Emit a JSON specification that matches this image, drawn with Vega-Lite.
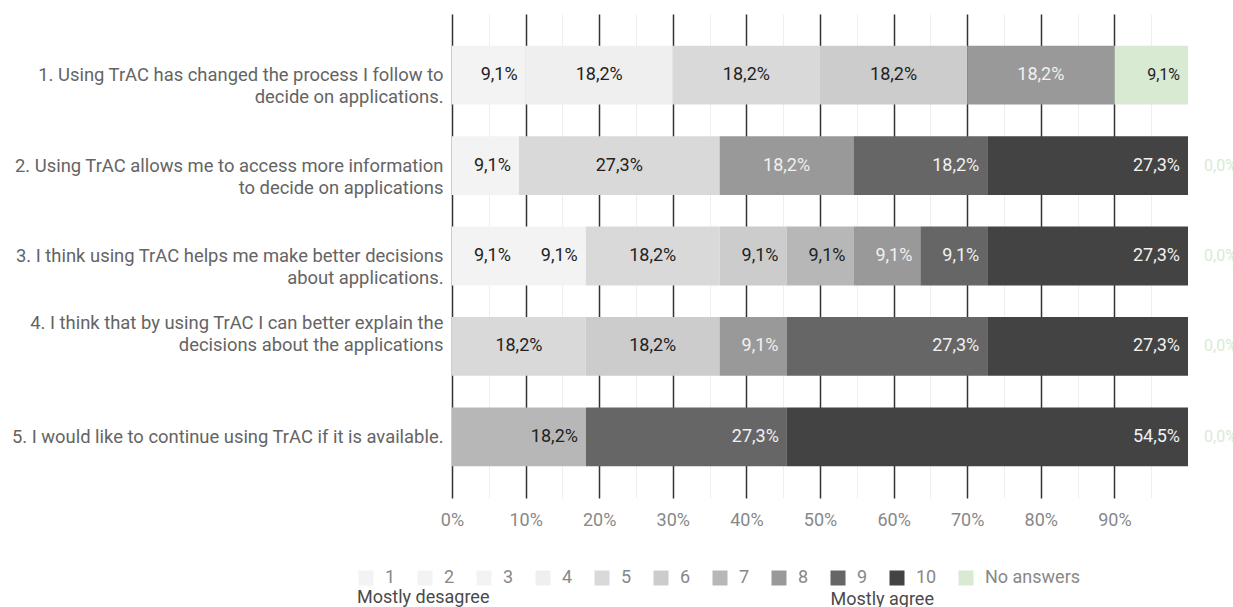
{
  "$schema": "https://vega.github.io/schema/vega-lite/v6.json",
  "width": 736,
  "height": 484,
  "autosize": {"type": "none"},
  "padding": {"left": 452, "top": 14, "right": 45, "bottom": 109},
  "config": {
    "view": {"stroke": null},
    "font": "Roboto",
    "text": {"font": "Roboto"}
  },
  "data": {
    "values": [
      {"q": "1. Using TrAC has changed the process I follow to\ndecide on applications.", "answer": "3", "code": 3, "pct": 9.1},
      {"q": "1. Using TrAC has changed the process I follow to\ndecide on applications.", "answer": "4", "code": 4, "pct": 18.2},
      {"q": "1. Using TrAC has changed the process I follow to\ndecide on applications.", "answer": "5", "code": 5, "pct": 18.2},
      {"q": "1. Using TrAC has changed the process I follow to\ndecide on applications.", "answer": "6", "code": 6, "pct": 18.2},
      {"q": "1. Using TrAC has changed the process I follow to\ndecide on applications.", "answer": "8", "code": 8, "pct": 18.2},
      {"q": "1. Using TrAC has changed the process I follow to\ndecide on applications.", "answer": "No answers", "code": 11, "pct": 9.1},

      {"q": "2. Using TrAC allows me to access more information\nto decide on applications", "answer": "2", "code": 2, "pct": 9.1},
      {"q": "2. Using TrAC allows me to access more information\nto decide on applications", "answer": "5", "code": 5, "pct": 27.3},
      {"q": "2. Using TrAC allows me to access more information\nto decide on applications", "answer": "8", "code": 8, "pct": 18.2},
      {"q": "2. Using TrAC allows me to access more information\nto decide on applications", "answer": "9", "code": 9, "pct": 18.2},
      {"q": "2. Using TrAC allows me to access more information\nto decide on applications", "answer": "10", "code": 10, "pct": 27.3},
      {"q": "2. Using TrAC allows me to access more information\nto decide on applications", "answer": "No answers", "code": 11, "pct": 0},

      {"q": "3. I think using TrAC helps me make better decisions\nabout applications.", "answer": "2", "code": 2, "pct": 9.1},
      {"q": "3. I think using TrAC helps me make better decisions\nabout applications.", "answer": "3", "code": 3, "pct": 9.1},
      {"q": "3. I think using TrAC helps me make better decisions\nabout applications.", "answer": "5", "code": 5, "pct": 18.2},
      {"q": "3. I think using TrAC helps me make better decisions\nabout applications.", "answer": "6", "code": 6, "pct": 9.1},
      {"q": "3. I think using TrAC helps me make better decisions\nabout applications.", "answer": "7", "code": 7, "pct": 9.1},
      {"q": "3. I think using TrAC helps me make better decisions\nabout applications.", "answer": "8", "code": 8, "pct": 9.1},
      {"q": "3. I think using TrAC helps me make better decisions\nabout applications.", "answer": "9", "code": 9, "pct": 9.1},
      {"q": "3. I think using TrAC helps me make better decisions\nabout applications.", "answer": "10", "code": 10, "pct": 27.3},
      {"q": "3. I think using TrAC helps me make better decisions\nabout applications.", "answer": "No answers", "code": 11, "pct": 0},

      {"q": "4. I think that by using TrAC I can better explain the\ndecisions about the applications", "answer": "5", "code": 5, "pct": 18.2},
      {"q": "4. I think that by using TrAC I can better explain the\ndecisions about the applications", "answer": "6", "code": 6, "pct": 18.2},
      {"q": "4. I think that by using TrAC I can better explain the\ndecisions about the applications", "answer": "8", "code": 8, "pct": 9.1},
      {"q": "4. I think that by using TrAC I can better explain the\ndecisions about the applications", "answer": "9", "code": 9, "pct": 27.3},
      {"q": "4. I think that by using TrAC I can better explain the\ndecisions about the applications", "answer": "10", "code": 10, "pct": 27.3},
      {"q": "4. I think that by using TrAC I can better explain the\ndecisions about the applications", "answer": "No answers", "code": 11, "pct": 0},

      {"q": "5. I would like to continue using TrAC if it is available.", "answer": "7", "code": 7, "pct": 18.2},
      {"q": "5. I would like to continue using TrAC if it is available.", "answer": "9", "code": 9, "pct": 27.3},
      {"q": "5. I would like to continue using TrAC if it is available.", "answer": "10", "code": 10, "pct": 54.5},
      {"q": "5. I would like to continue using TrAC if it is available.", "answer": "No answers", "code": 11, "pct": 0}
    ]
  },
  "transform": [
    {"stack": "pct", "groupby": ["q"], "sort": [{"field": "code", "order": "ascending"}], "offset": "normalize", "as": ["x0", "x1"]},
    {"calculate": "(datum.x0 + datum.x1) / 2", "as": "mid"},
    {"calculate": "replace(format(datum.pct, '.1f'), '.', ',') + '%'", "as": "label"}
  ],
  "encoding": {
    "y": {
      "field": "q",
      "type": "nominal",
      "sort": null,
      "scale": {"paddingInner": 0.35, "paddingOuter": 0.35},
      "axis": {
        "title": null,
        "domain": false,
        "ticks": false,
        "labelExpr": "split(datum.label, '\\n')",
        "labelFont": "Roboto",
        "labelFontSize": 18.4,
        "labelColor": "#646464",
        "labelLineHeight": 22,
        "labelPadding": 9,
        "labelLimit": 600,
        "labelAlign": "right",
        "labelBaseline": "middle",
        "labelOffset": {"condition": {"test": "indexof(datum.value, '4.') == 0", "value": -23}, "value": 0}
      }
    }
  },
  "layer": [
    {
      "mark": {"type": "bar"},
      "encoding": {
        "x": {
          "field": "x0",
          "type": "quantitative",
          "scale": {"domain": [0, 1], "nice": false},
          "axis": {
            "values": [0, 0.1, 0.2, 0.3, 0.4, 0.5, 0.6, 0.7, 0.8, 0.9],
            "format": ".0%",
            "grid": true,
            "gridColor": "#333333",
            "gridWidth": 1.5,
            "domain": false,
            "ticks": false,
            "labelFont": "Roboto",
            "labelFontSize": 18,
            "labelColor": "#888888",
            "labelPadding": 13,
            "labelFlush": false,
            "title": "Mostly agree",
            "titleFont": "Roboto",
            "titleFontSize": 18,
            "titleFontWeight": "normal",
            "titleColor": "#4a4a4a",
            "titleX": 378,
            "titleY": 106,
            "titleAlign": "left",
            "titleBaseline": "alphabetic"
          }
        },
        "x2": {"field": "x1"},
        "color": {
          "field": "answer",
          "type": "nominal",
          "scale": {
            "domain": ["1", "2", "3", "4", "5", "6", "7", "8", "9", "10", "No answers"],
            "range": ["#f3f3f3", "#f3f3f3", "#f3f3f3", "#efefef", "#d9d9d9", "#cccccc", "#b7b7b7", "#999999", "#666666", "#434343", "#d9ead3"]
          },
          "legend": {
            "orient": "none",
            "legendX": -95,
            "legendY": 555,
            "direction": "horizontal",
            "symbolType": "square",
            "symbolSize": 225,
            "symbolStrokeWidth": 0,
            "symbolOpacity": 1,
            "labelFont": "Roboto",
            "labelFontSize": 18,
            "labelColor": "#888888",
            "labelOffset": 10,
            "columnPadding": 20,
            "title": "Mostly desagree",
            "titleOrient": "bottom",
            "titleAnchor": "start",
            "titleFont": "Roboto",
            "titleFontSize": 18,
            "titleFontWeight": "normal",
            "titleColor": "#4a4a4a",
            "titlePadding": 2
          }
        },
        "order": {"field": "code", "type": "quantitative"}
      }
    },
    {
      "transform": [{"filter": "datum.pct >= 15 && datum.code <= 8 && datum.code != 7"}],
      "mark": {"type": "text", "align": "center", "baseline": "middle", "font": "Roboto", "fontSize": 18},
      "encoding": {
        "x": {"field": "mid", "type": "quantitative", "scale": {"domain": [0, 1], "nice": false}, "axis": null},
        "text": {"field": "label", "type": "nominal"},
        "color": {"condition": {"test": "datum.code == 8", "value": "#f1f1f1"}, "value": "#222222"}
      }
    },
    {
      "transform": [{"filter": "datum.pct > 0 && !(datum.pct >= 15 && datum.code <= 8 && datum.code != 7)"}],
      "mark": {"type": "text", "align": "right", "baseline": "middle", "dx": -8, "font": "Roboto"},
      "encoding": {
        "x": {"field": "x1", "type": "quantitative", "scale": {"domain": [0, 1], "nice": false}, "axis": null},
        "text": {"field": "label", "type": "nominal"},
        "color": {"condition": {"test": "datum.code >= 8 && datum.code <= 10", "value": "#f1f1f1"}, "value": "#222222"},
        "size": {"condition": {"test": "datum.code == 11", "value": 16}, "value": 18}
      }
    },
    {
      "transform": [{"filter": "datum.pct == 0"}],
      "mark": {"type": "text", "align": "left", "baseline": "middle", "dx": 16, "font": "Roboto", "fontSize": 16, "color": "#d9ead3"},
      "encoding": {
        "x": {
          "field": "x1",
          "type": "quantitative",
          "scale": {"domain": [0, 1], "nice": false},
          "axis": {
            "orient": "top",
            "values": [0.05, 0.15, 0.25, 0.35, 0.45, 0.55, 0.65, 0.75, 0.85, 0.95],
            "grid": true,
            "gridColor": "#eeeeee",
            "gridWidth": 1,
            "labels": false,
            "ticks": false,
            "domain": false,
            "title": null
          }
        },
        "text": {"field": "label", "type": "nominal"}
      }
    }
  ],
  "resolve": {"axis": {"x": "independent"}}
}
